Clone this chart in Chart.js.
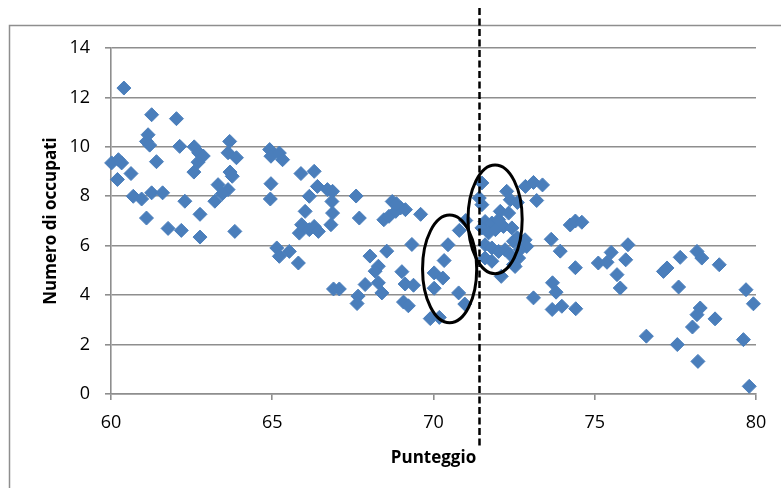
<!DOCTYPE html>
<html>
<head>
<meta charset="utf-8">
<script src="https://cdn.jsdelivr.net/npm/chart.js@4/dist/chart.umd.min.js"></script>
<style>
  html, body { margin: 0; padding: 0; background: #fff; }
  #wrap { width: 781px; height: 488px; position: relative; }
</style>
</head>
<body>
<div id="wrap"><canvas id="chart" width="781" height="488"></canvas></div>
<script>
// punteggio (x) and numero di occupati (y)
var punteggio = [
  60.40, 61.26, 62.03, 61.15, 61.10, 61.20, 62.13, 62.58, 62.72, 62.86,
  62.70, 62.57, 63.68, 63.63, 63.89, 63.69, 63.76, 63.32, 63.63, 63.22,
  63.45, 60.02, 60.23, 60.33, 60.20, 60.62, 60.69, 60.95, 61.26, 61.60,
  61.41, 61.10, 62.29, 62.76, 61.77, 62.18, 62.76, 63.84,
  64.92, 64.96, 65.22, 65.32, 64.96, 64.94, 65.14, 65.22, 65.53, 65.81,
  65.89, 66.30, 66.15, 66.02, 66.40, 65.84, 65.91, 66.15, 66.30, 66.43,
  66.71, 66.87, 66.85, 66.87, 66.82, 66.90, 67.08, 67.60, 67.70, 67.66,
  67.63, 67.88, 68.03, 68.29, 68.19, 68.55, 68.29, 68.40, 69.02, 69.12,
  69.38, 69.07, 69.22, 69.33, 69.60, 68.72, 68.98, 69.13, 68.46, 68.62,
  68.83, 68.85, 69.90, 70.18, 70.02, 70.02, 70.29, 70.33, 70.45, 70.78,
  70.80, 71.00, 70.97,
  71.50, 71.42, 71.50, 72.27, 72.38, 72.07, 72.33, 71.60, 71.81, 72.02,
  72.17, 72.43, 71.50, 71.71, 71.92, 72.48, 71.60, 71.81, 72.02, 72.22,
  71.60, 71.81, 72.38, 72.53, 72.64, 72.84, 72.89, 72.10, 72.60, 72.69,
  72.48, 72.60, 72.85, 73.10, 73.38, 73.20, 73.65, 73.93, 74.40, 74.24,
  74.40, 74.60, 73.69, 73.80, 73.68, 73.98, 74.41, 73.10,
  75.11, 75.38, 75.51, 75.69, 75.96, 76.03, 75.79, 77.13, 77.24, 77.65,
  78.17, 78.32, 78.86, 77.60, 79.69, 76.60, 77.56, 78.27, 78.17, 78.03,
  78.73, 78.20, 79.61, 79.92, 79.79
];
var occupati = [
  12.38, 11.30, 11.14, 10.49, 10.22, 10.07, 10.02, 10.00, 9.76, 9.63,
  9.38, 8.98, 10.22, 9.76, 9.56, 8.98, 8.81, 8.47, 8.27, 7.80,
  8.10, 9.35, 9.48, 9.35, 8.68, 8.92, 8.00, 7.89, 8.14, 8.14,
  9.40, 7.12, 7.80, 7.27, 6.70, 6.62, 6.35, 6.58,
  9.89, 9.62, 9.75, 9.48, 8.51, 7.89, 5.91, 5.57, 5.77, 5.30,
  8.92, 9.01, 8.00, 7.39, 8.40, 6.51, 6.85, 6.65, 6.78, 6.58,
  8.27, 8.20, 7.79, 7.32, 6.85, 4.25, 4.25, 8.01, 7.12, 3.96,
  3.66, 4.43, 5.58, 5.17, 4.97, 5.78, 4.50, 4.09, 4.95, 4.45,
  4.40, 3.72, 3.57, 6.05, 7.27, 7.79, 7.53, 7.46, 7.05, 7.19,
  7.39, 7.70, 3.05, 3.10, 4.28, 4.90, 4.69, 5.40, 6.04, 4.09,
  6.62, 7.02, 3.64,
  8.54, 7.93, 7.66, 8.20, 7.86, 7.39, 7.32, 6.98, 6.92, 7.05,
  6.78, 6.72, 6.72, 6.52, 6.65, 6.18, 6.04, 5.91, 5.77, 5.84,
  5.50, 5.37, 5.64, 5.16, 5.50, 6.24, 5.97, 4.76, 6.32, 5.85,
  5.24, 7.75, 8.40, 8.56, 8.46, 7.83, 6.26, 5.78, 5.11, 6.84,
  7.00, 6.95, 4.50, 4.12, 3.42, 3.55, 3.45, 3.89,
  5.30, 5.33, 5.73, 4.83, 5.43, 6.04, 4.29, 4.96, 5.10, 5.53,
  5.77, 5.50, 5.23, 4.33, 4.22, 2.34, 2.00, 3.48, 3.21, 2.71,
  3.04, 1.32, 2.20, 3.65, 0.31
];

var soglia = 71.4;            // dashed cut-off line
var ellissi = [               // [centre x, centre y, half width, half height] in data units
  [70.50, 5.06, 0.84, 2.18],
  [71.91, 7.07, 0.84, 2.20]
];

var points = punteggio.map(function (x, i) { return { x: x, y: occupati[i] }; });
var blue = '#4a7ebb';
var gridGray = '#8e8e8e';

var extras = {
  id: 'extras',
  beforeDraw: function (chart) {
    var ctx = chart.ctx;
    ctx.save();
    ctx.strokeStyle = '#8e8e8e';
    ctx.lineWidth = 1.5;
    ctx.strokeRect(9.5, 25.5, 800, 500);
    ctx.restore();
  },
  afterDatasetsDraw: function (chart) {
    var ctx = chart.ctx, xs = chart.scales.x, ys = chart.scales.y, area = chart.chartArea;
    ctx.save();
    ctx.strokeStyle = '#000';
    ctx.lineWidth = 3;
    ellissi.forEach(function (e) {
      var cx = xs.getPixelForValue(e[0]), cy = ys.getPixelForValue(e[1]);
      var rx = xs.getPixelForValue(e[0] + e[2]) - cx;
      var ry = cy - ys.getPixelForValue(e[1] + e[3]);
      ctx.beginPath();
      ctx.ellipse(cx, cy, rx, ry, 0, 0, Math.PI * 2);
      ctx.stroke();
    });
    var lx = Math.round(xs.getPixelForValue(soglia)) + 0.5;
    ctx.lineWidth = 2.5;
    ctx.setLineDash([7, 3.5]);
    ctx.beginPath();
    ctx.moveTo(lx, area.top - 40);
    ctx.lineTo(lx, area.bottom + 53);
    ctx.stroke();
    ctx.restore();
  }
};

new Chart(document.getElementById('chart'), {
  type: 'scatter',
  data: {
    datasets: [{
      data: points,
      pointStyle: 'rectRot',
      pointRadius: 7,
      pointHoverRadius: 7,
      backgroundColor: blue,
      borderColor: blue,
      borderWidth: 1,
      clip: false
    }]
  },
  options: {
    responsive: false,
    animation: false,
    events: [],
    layout: { padding: { top: 48, right: 25, left: 0, bottom: 0 } },
    plugins: { legend: { display: false }, tooltip: { enabled: false } },
    scales: {
      x: {
        min: 60, max: 80,
        afterFit: function (s) { s.height = 94; },
        ticks: { stepSize: 5, padding: 12, color: '#000', font: { family: 'Open Sans', size: 18 } },
        grid: { drawOnChartArea: false, drawTicks: true, tickLength: 6, color: gridGray, lineWidth: 1.6 },
        border: { display: true, color: gridGray, width: 1.6 },
        title: { display: true, text: 'Punteggio', color: '#000',
                 font: { family: 'Open Sans', size: 17, weight: 'bold' }, padding: { top: 0, bottom: 20 } }
      },
      y: {
        min: 0, max: 14,
        afterFit: function (s) { s.width = 111; },
        ticks: { stepSize: 2, padding: 15, color: '#000', font: { family: 'Open Sans', size: 18 } },
        grid: { color: gridGray, lineWidth: 1.6, tickLength: 6 },
        border: { display: true, color: gridGray, width: 1.6 },
        title: { display: true, text: 'Numero di occupati', color: '#000',
                 font: { family: 'Open Sans', size: 17, weight: 'bold' }, padding: { top: 41, bottom: 0 } }
      }
    }
  },
  plugins: [extras]
});
</script>
</body>
</html>
